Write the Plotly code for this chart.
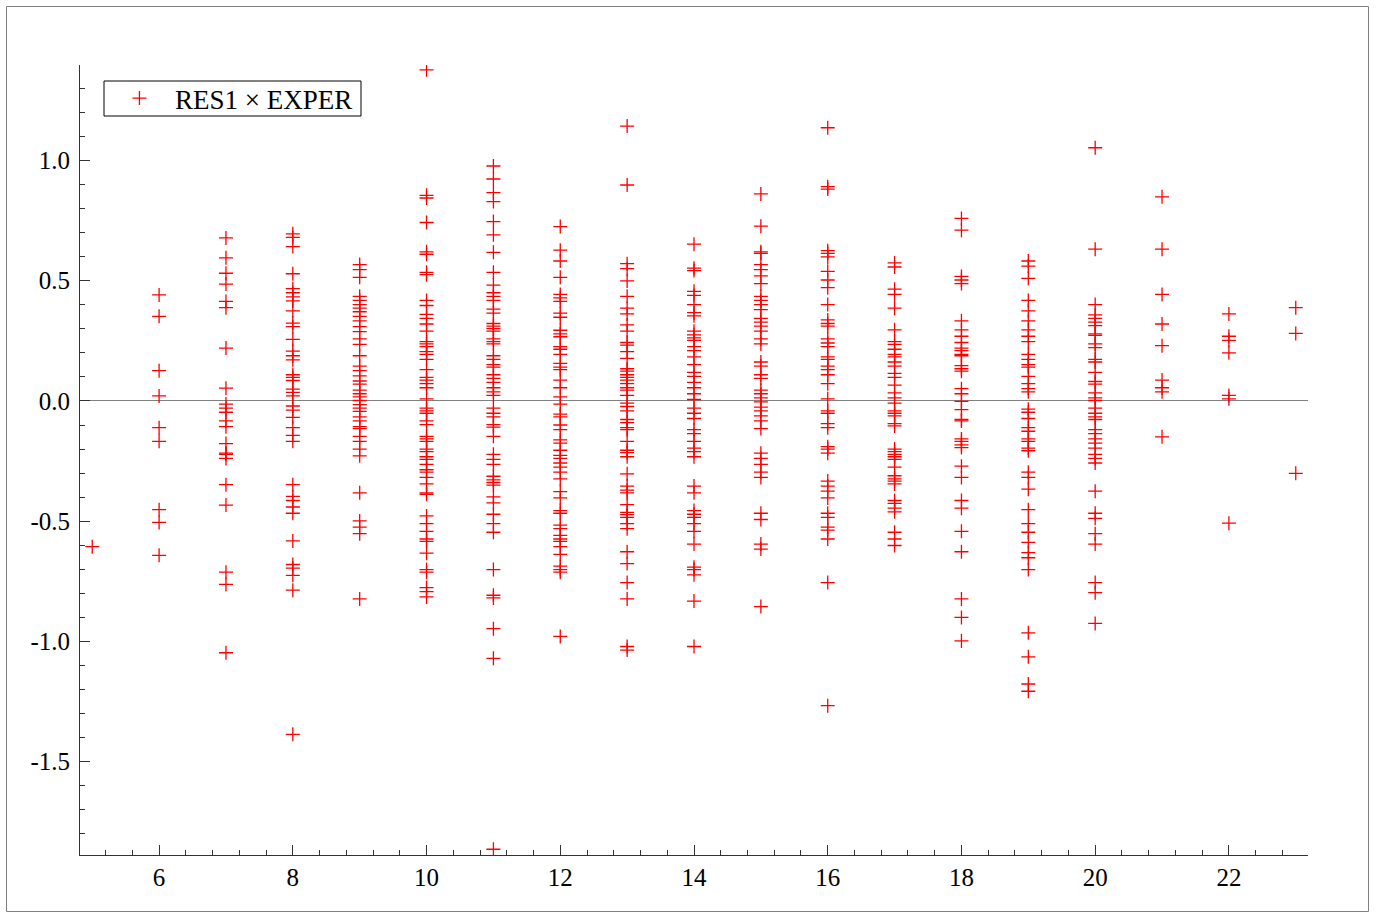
import plotly.graph_objects as go

# RES1 values grouped by EXPER value
res1_e05 = [-0.606]
res1_e06 = [0.441, 0.352, 0.126, 0.021, -0.111, -0.168, -0.452, -0.505, -0.642]
res1_e07 = [0.678, 0.595, 0.531, 0.486, 0.414, 0.388, 0.220, 0.053, -0.013, -0.030, -0.047,
            -0.083, -0.107, -0.177, -0.217, -0.222, -0.239, -0.348, -0.433, -0.712, -0.763, -1.047]
res1_e08 = [0.695, 0.680, 0.642, 0.529, 0.467, 0.450, 0.433, 0.416, 0.375, 0.324, 0.309, 0.256,
            0.207, 0.188, 0.171, 0.109, 0.098, 0.085, 0.049, 0.036, 0.021, -0.021, -0.038, -0.068,
            -0.111, -0.143, -0.168, -0.348, -0.397, -0.414, -0.441, -0.467, -0.582, -0.680, -0.695,
            -0.725, -0.787, -1.386]
res1_e09 = [0.567, 0.546, 0.514, 0.435, 0.418, 0.401, 0.386, 0.371, 0.352, 0.333, 0.309, 0.288,
            0.258, 0.235, 0.188, 0.145, 0.126, 0.104, 0.083, 0.070, 0.045, 0.030, 0.017, 0.002,
            -0.015, -0.030, -0.043, -0.066, -0.083, -0.107, -0.115, -0.147, -0.168, -0.200, -0.228,
            -0.382, -0.499, -0.525, -0.552, -0.823]
res1_e10 = [1.377, 0.855, 0.844, 0.742, 0.620, 0.610, 0.535, 0.525, 0.418, 0.397, 0.360, 0.343,
            0.320, 0.290, 0.247, 0.237, 0.226, 0.205, 0.194, 0.173, 0.130, 0.098, 0.087, 0.072,
            0.055, 0.009, -0.030, -0.041, -0.051, -0.083, -0.098, -0.147, -0.158, -0.168, -0.200,
            -0.211, -0.232, -0.243, -0.264, -0.286, -0.296, -0.318, -0.345, -0.382, -0.388, -0.478,
            -0.510, -0.542, -0.574, -0.584, -0.633, -0.701, -0.712, -0.776, -0.793, -0.815]
res1_e11 = [0.977, 0.923, 0.866, 0.829, 0.746, 0.691, 0.618, 0.535, 0.482, 0.450, 0.435, 0.418,
            0.382, 0.365, 0.322, 0.311, 0.301, 0.290, 0.258, 0.247, 0.237, 0.188, 0.173, 0.151,
            0.141, 0.109, 0.094, 0.077, 0.055, 0.038, 0.023, -0.030, -0.051, -0.066, -0.098,
            -0.109, -0.147, -0.222, -0.243, -0.264, -0.313, -0.328, -0.339, -0.350, -0.399, -0.424,
            -0.471, -0.510, -0.546, -0.701, -0.808, -0.819, -0.947, -1.070, -1.864]
res1_e12 = [0.725, 0.627, 0.582, 0.514, 0.443, 0.429, 0.414, 0.365, 0.348, 0.294, 0.279, 0.267,
            0.226, 0.215, 0.194, 0.156, 0.141, 0.130, 0.087, 0.055, 0.017, -0.013, -0.055, -0.066,
            -0.100, -0.119, -0.162, -0.175, -0.205, -0.226, -0.239, -0.258, -0.275, -0.296, -0.324,
            -0.377, -0.403, -0.456, -0.467, -0.516, -0.531, -0.559, -0.574, -0.584, -0.606, -0.638,
            -0.687, -0.701, -0.712, -0.979]
res1_e13 = [1.143, 0.898, 0.571, 0.550, 0.499, 0.435, 0.386, 0.362, 0.316, 0.290, 0.243, 0.232,
            0.205, 0.177, 0.134, 0.124, 0.109, 0.098, 0.087, 0.072, 0.055, 0.045, 0.023, -0.009,
            -0.023, -0.041, -0.077, -0.090, -0.111, -0.119, -0.168, -0.205, -0.215, -0.232, -0.303,
            -0.354, -0.371, -0.382, -0.431, -0.463, -0.473, -0.484, -0.510, -0.531, -0.627, -0.676,
            -0.755, -0.823, -1.021, -1.036]
res1_e14 = [0.652, 0.552, 0.542, 0.456, 0.439, 0.401, 0.367, 0.354, 0.290, 0.275, 0.262, 0.252,
            0.226, 0.209, 0.183, 0.151, 0.119, 0.102, 0.077, 0.055, 0.030, 0.006, -0.030, -0.051,
            -0.073, -0.119, -0.136, -0.168, -0.196, -0.211, -0.232, -0.354, -0.382, -0.456, -0.471,
            -0.484, -0.510, -0.542, -0.595, -0.691, -0.701, -0.723, -0.832, -1.021]
res1_e15 = [0.861, 0.727, 0.620, 0.614, 0.567, 0.546, 0.520, 0.488, 0.435, 0.418, 0.401, 0.380,
            0.343, 0.328, 0.311, 0.290, 0.258, 0.237, 0.162, 0.145, 0.109, 0.094, 0.045, 0.030,
            0.013, -0.004, -0.026, -0.041, -0.062, -0.083, -0.115, -0.217, -0.239, -0.264, -0.296,
            -0.318, -0.467, -0.493, -0.595, -0.616, -0.855]
res1_e16 = [1.136, 0.891, 0.881, 0.625, 0.614, 0.599, 0.539, 0.503, 0.471, 0.401, 0.337, 0.322,
            0.311, 0.258, 0.241, 0.226, 0.183, 0.173, 0.145, 0.130, 0.109, 0.072, 0.009, -0.041,
            -0.051, -0.094, -0.111, -0.190, -0.200, -0.217, -0.333, -0.354, -0.375, -0.403, -0.467,
            -0.484, -0.525, -0.537, -0.574, -0.755, -1.267]
res1_e17 = [0.574, 0.557, 0.465, 0.443, 0.386, 0.296, 0.247, 0.235, 0.215, 0.194, 0.183, 0.162,
            0.145, 0.115, 0.098, 0.066, 0.034, 0.013, -0.009, -0.041, -0.051, -0.062, -0.094,
            -0.104, -0.200, -0.211, -0.222, -0.232, -0.243, -0.275, -0.311, -0.324, -0.333, -0.345,
            -0.414, -0.426, -0.446, -0.461, -0.546, -0.574, -0.601]
res1_e18 = [0.759, 0.710, 0.518, 0.503, 0.488, 0.333, 0.296, 0.269, 0.243, 0.220, 0.209, 0.194,
            0.188, 0.147, 0.134, 0.124, 0.051, 0.030, -0.002, -0.036, -0.077, -0.083, -0.158,
            -0.168, -0.183, -0.194, -0.271, -0.318, -0.414, -0.446, -0.542, -0.627, -0.823, -0.900,
            -0.998]
res1_e19 = [0.582, 0.561, 0.510, 0.418, 0.375, 0.333, 0.296, 0.269, 0.247, 0.194, 0.173, 0.151,
            0.141, 0.102, 0.072, 0.051, 0.038, -0.034, -0.047, -0.073, -0.111, -0.126, -0.158,
            -0.168, -0.196, -0.207, -0.296, -0.318, -0.367, -0.452, -0.510, -0.546, -0.588, -0.631,
            -0.652, -0.701, -0.964, -1.064, -1.177, -1.207]
res1_e20 = [1.053, 0.631, 0.401, 0.358, 0.343, 0.328, 0.313, 0.279, 0.273, 0.237, 0.222, 0.173,
            0.162, 0.119, 0.081, 0.070, 0.034, 0.013, 0.002, -0.030, -0.051, -0.066, -0.077,
            -0.119, -0.136, -0.158, -0.175, -0.196, -0.222, -0.239, -0.258, -0.375, -0.467, -0.488,
            -0.552, -0.595, -0.755, -0.797, -0.925]
res1_e21 = [0.849, 0.631, 0.443, 0.320, 0.230, 0.087, 0.055, 0.038, -0.149]
res1_e22 = [0.362, 0.269, 0.252, 0.200, 0.023, 0.009, -0.508]
res1_e23 = [0.388, 0.281, -0.301]

exper_levels = list(range(5, 24))
res1_groups = [res1_e05, res1_e06, res1_e07, res1_e08, res1_e09, res1_e10, res1_e11, res1_e12,
               res1_e13, res1_e14, res1_e15, res1_e16, res1_e17, res1_e18, res1_e19, res1_e20,
               res1_e21, res1_e22, res1_e23]

x_tick_vals = [6, 8, 10, 12, 14, 16, 18, 20, 22]
y_tick_vals = [-1.5, -1.0, -0.5, 0.0, 0.5, 1.0]
y_tick_text = ["-1.5", "-1.0", "-0.5", "0.0", "0.5", "1.0"]

xs, ys = [], []
for e, grp in zip(exper_levels, res1_groups):
    xs.extend([e] * len(grp))
    ys.extend(grp)

FONT = "Liberation Serif"

fig = go.Figure()
fig.add_trace(go.Scatter(
    x=xs, y=ys, mode="markers", name="RES1 × EXPER",
    marker=dict(symbol="cross-thin", size=10, color="red",
                line=dict(color="red", width=1.3)),
    showlegend=True,
))

axis_common = dict(
    showgrid=False, showline=True, linecolor="#333333", linewidth=1,
    ticks="inside", tickcolor="#333333", tickwidth=1, ticklen=10,
    tickfont=dict(family=FONT, size=25, color="black"),
    mirror=False,
)

fig.update_layout(
    width=1378, height=913,
    margin=dict(l=80, r=70, t=65, b=58),
    paper_bgcolor="white", plot_bgcolor="white",
    font=dict(family=FONT, size=25, color="black"),
    xaxis=dict(range=[4.817, 23.183], tickvals=x_tick_vals, zeroline=False,
               minor=dict(dtick=0.4, tick0=0, ticks="inside", ticklen=5,
                          tickcolor="#333333", tickwidth=1),
               **axis_common),
    yaxis=dict(range=[-1.888, 1.397], tickvals=y_tick_vals, ticktext=y_tick_text,
               zeroline=True, zerolinecolor="#808080", zerolinewidth=1,
               ticklabelstandoff=4,
               minor=dict(dtick=0.1, tick0=0, ticks="inside", ticklen=5,
                          tickcolor="#333333", tickwidth=1),
               **axis_common),
    legend=dict(x=0.0195, y=0.9576, xanchor="left", yanchor="middle",
                bgcolor="rgba(0,0,0,0)", borderwidth=0,
                font=dict(family=FONT, size=27, color="black"),
                itemwidth=61),
    shapes=[
        dict(type="rect", xref="paper", yref="paper",
             x0=(6.5 - 80) / 1228, x1=(1368.5 - 80) / 1228,
             y0=(855 - 911.5) / 790, y1=(855 - 6.5) / 790,
             line=dict(color="#808080", width=1), fillcolor="rgba(0,0,0,0)",
             layer="below"),
        dict(type="rect", xref="paper", yref="paper",
             x0=(104 - 80) / 1228, x1=(361 - 80) / 1228,
             y0=(855 - 116) / 790, y1=(855 - 81) / 790,
             line=dict(color="black", width=1), fillcolor="white",
             layer="below"),
    ],
)

fig.write_html("out.html", config={"displayModeBar": False},
               post_script="document.body.style.margin='0px';")
